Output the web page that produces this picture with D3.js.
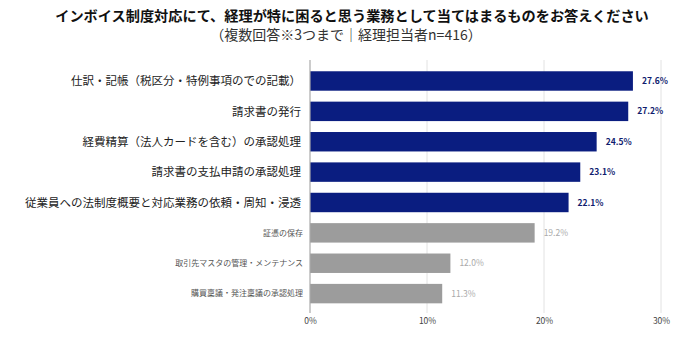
<!DOCTYPE html>
<html><head><meta charset="utf-8">
<script src="https://cdn.jsdelivr.net/npm/d3@7"></script>
<style>
body{margin:0;background:#fff;}
text{font-family:"Noto Sans CJK JP","Noto Sans",sans-serif;}
</style></head>
<body><svg id="chart" width="700" height="344"></svg>
<script>
const categories = [
  "仕訳・記帳（税区分・特例事項のでの記載）",
  "請求書の発行",
  "経費精算（法人カードを含む）の承認処理",
  "請求書の支払申請の承認処理",
  "従業員への法制度概要と対応業務の依頼・周知・浸透",
  "証憑の保存",
  "取引先マスタの管理・メンテナンス",
  "購買稟議・発注稟議の承認処理"
];
const values = [27.6, 27.2, 24.5, 23.1, 22.1, 19.2, 12.0, 11.3];
const highlighted = [true, true, true, true, true, false, false, false];
const tickValues = [0, 10, 20, 30];
const titleText = "インボイス制度対応にて、経理が特に困ると思う業務として当てはまるものをお答えください";
const subtitleText = "（複数回答※3つまで｜経理担当者n=416）";

const svg = d3.select("#chart");
const x = d3.scaleLinear().domain([0, 30]).range([310, 661]);
const y = d3.scaleBand().domain(categories).range([65.8, 308.8]).paddingInner(0.36).paddingOuter(0.18);

svg.append("text").attr("x", 352).attr("y", 21).attr("text-anchor", "middle")
  .attr("font-size", 14.2).attr("font-weight", "bold").attr("fill", "#111").text(titleText);
svg.append("text").attr("x", 346).attr("y", 39.5).attr("text-anchor", "middle")
  .attr("font-size", 14).attr("fill", "#333").text(subtitleText);

// gridlines
svg.append("g").selectAll("line").data(tickValues.filter(d => d > 0)).join("line")
  .attr("x1", d => x(d)).attr("x2", d => x(d)).attr("y1", 60).attr("y2", 313)
  .attr("stroke", "#e2e2e2").attr("stroke-width", 1);

// bars
svg.append("g").selectAll("rect").data(categories).join("rect")
  .attr("x", x(0)).attr("y", d => y(d))
  .attr("width", (d, i) => x(values[i]) - x(0))
  .attr("height", y.bandwidth())
  .attr("fill", (d, i) => highlighted[i] ? "#0a1d80" : "#9c9c9c");

// axis line
svg.append("line").attr("x1", x(0)).attr("x2", x(0)).attr("y1", 60).attr("y2", 313)
  .attr("stroke", "#aaa").attr("stroke-width", 1.2);

// category labels
svg.append("g").selectAll("text").data(categories).join("text")
  .attr("x", (d, i) => highlighted[i] ? 301 : 303)
  .attr("y", d => y(d) + y.bandwidth() / 2)
  .attr("dy", "0.36em").attr("text-anchor", "end")
  .attr("font-size", (d, i) => highlighted[i] ? 11.5 : 8)
  .attr("fill", (d, i) => highlighted[i] ? "#222" : "#555")
  .text(d => d);

// value labels
svg.append("g").selectAll("text").data(categories).join("text")
  .attr("x", (d, i) => x(values[i]) + 9)
  .attr("y", d => y(d) + y.bandwidth() / 2)
  .attr("dy", "0.36em")
  .attr("font-size", 8.5)
  .attr("font-weight", (d, i) => highlighted[i] ? "bold" : "normal")
  .attr("fill", (d, i) => highlighted[i] ? "#101c6e" : "#aaa")
  .text((d, i) => values[i].toFixed(1) + "%");

// x axis tick labels
const xAxis = d3.axisBottom(x).tickValues(tickValues).tickFormat(d => d + "%").tickSize(0).tickPadding(0);
const gx = svg.append("g").attr("transform", "translate(0,318)").call(xAxis);
gx.select(".domain").remove();
gx.selectAll("text").attr("font-size", 8.5).attr("fill", "#444")
  .attr("font-family", "\"Noto Sans CJK JP\",sans-serif");
</script></body></html>
